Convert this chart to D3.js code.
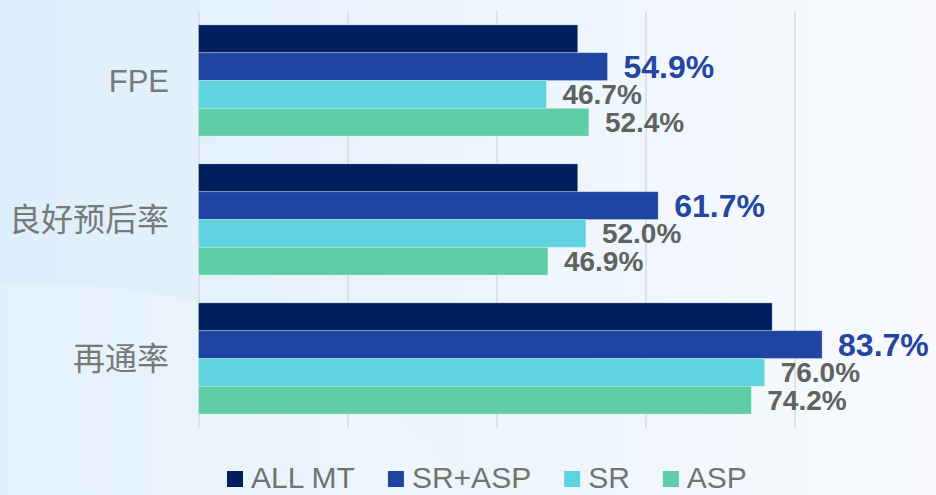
<!DOCTYPE html>
<html>
<head>
  <meta charset="utf-8">
  <script src="https://cdn.jsdelivr.net/npm/d3@7/dist/d3.min.js"></script>
  <style>
    body { margin: 0; }
    svg { display: block; }
  </style>
</head>
<body>
  <svg width="936" height="495" id="mainsvg"></svg>
  <script>
    // data
    const categories = ['FPE', '良好预后率', '再通率'];
    const seriesNames = ['ALL MT', 'SR+ASP', 'SR', 'ASP'];
    const allMT = [50.9, 50.9, 77.0];
    const srAsp = [54.9, 61.7, 83.7];
    const sr = [46.7, 52.0, 76.0];
    const asp = [52.4, 46.9, 74.2];
    const gridTicks = [0, 20, 40, 60, 80, 100];
    const colors = ['#001f5e', '#1e45a0', '#5fd3dd', '#5fcea6'];
    const showLabel = [false, true, true, true];

    const seriesValues = [allMT, srAsp, sr, asp];
    const data = categories.map((c, i) => ({
      cat: c,
      vals: seriesNames.map((s, j) => ({ s, j, v: seriesValues[j][i] }))
    }));

    const svg = d3.select('svg');
    const width = +svg.attr('width');
    const height = +svg.attr('height');

    // background
    const defs = svg.append('defs');
    const grad = defs.append('linearGradient').attr('id', 'bg')
      .attr('x1', '0').attr('y1', '0').attr('x2', '1').attr('y2', '0');
    grad.append('stop').attr('offset', '0%').attr('stop-color', '#deeefc');
    grad.append('stop').attr('offset', '45%').attr('stop-color', '#ebf4fd');
    grad.append('stop').attr('offset', '100%').attr('stop-color', '#f8fafe');
    svg.append('rect').attr('width', width).attr('height', height).attr('fill', 'url(#bg)');
    svg.append('path')
      .attr('d', 'M0,285 C120,280 220,300 300,340 C360,380 420,430 470,495 L0,495 Z')
      .attr('fill', '#ffffff').attr('opacity', 0.2);

    const x = d3.scaleLinear().domain([0, 100]).range([198.5, 943.5]);
    const y0 = d3.scaleBand().domain(categories).range([11, 428])
      .paddingInner(0.2).paddingOuter(0.1);
    const y1 = d3.scaleBand().domain(seriesNames).range([0, y0.bandwidth()]);

    // grid lines
    const grid = svg.append('g')
      .attr('transform', 'translate(0, 428)')
      .call(d3.axisBottom(x).tickValues(gridTicks).tickSize(-417).tickFormat(''));
    grid.select('.domain').remove();
    grid.selectAll('.tick line').attr('stroke', '#d9dcdc').attr('stroke-width', 1.6);

    // bars
    const groups = svg.append('g').selectAll('g').data(data).join('g')
      .attr('transform', d => `translate(0, ${y0(d.cat)})`);
    groups.selectAll('rect').data(d => d.vals).join('rect')
      .attr('x', x(0))
      .attr('y', d => y1(d.s))
      .attr('width', d => x(d.v) - x(0))
      .attr('height', y1.bandwidth())
      .attr('fill', d => colors[d.j])
      .attr('stroke', '#ffffff').attr('stroke-opacity', 0.35).attr('stroke-width', 0.8);

    // value labels
    groups.selectAll('text').data(d => d.vals.filter(v => showLabel[v.j])).join('text')
      .attr('x', d => x(d.v) + 16)
      .attr('y', d => y1(d.s) + y1.bandwidth() / 2)
      .attr('dy', '0.36em')
      .attr('font-family', '"Liberation Sans", Arial, sans-serif')
      .attr('font-weight', 'bold')
      .attr('font-size', d => d.j === 1 ? 32 : 28)
      .attr('fill', d => d.j === 1 ? '#2346a0' : '#5f6360')
      .text(d => d.v.toFixed(1) + '%');

    // category labels
    svg.append('g').selectAll('text').data(categories).join('text')
      .attr('x', 169)
      .attr('y', d => y0(d) + y0.bandwidth() / 2)
      .attr('dy', '0.36em')
      .attr('text-anchor', 'end')
      .attr('font-family', '"Liberation Sans", "Noto Sans CJK SC", sans-serif')
      .attr('font-size', d => /[A-Z]/.test(d) ? 31 : 32)
      .attr('fill', '#767b77')
      .text(d => d);

    // legend
    const legend = svg.append('g').attr('transform', 'translate(0, 477)');
    let lx = 227;
    seriesNames.forEach((s, j) => {
      legend.append('rect').attr('x', lx).attr('y', -6).attr('width', 16).attr('height', 16)
        .attr('fill', colors[j]);
      const t = legend.append('text').attr('x', lx + 24).attr('y', 0).attr('dy', '0.36em')
        .attr('font-family', '"Liberation Sans", Arial, sans-serif')
        .attr('font-size', 30).attr('fill', '#6f756f').text(s);
      lx += 24 + t.node().getComputedTextLength() + 33;
    });
  </script>
</body>
</html>
